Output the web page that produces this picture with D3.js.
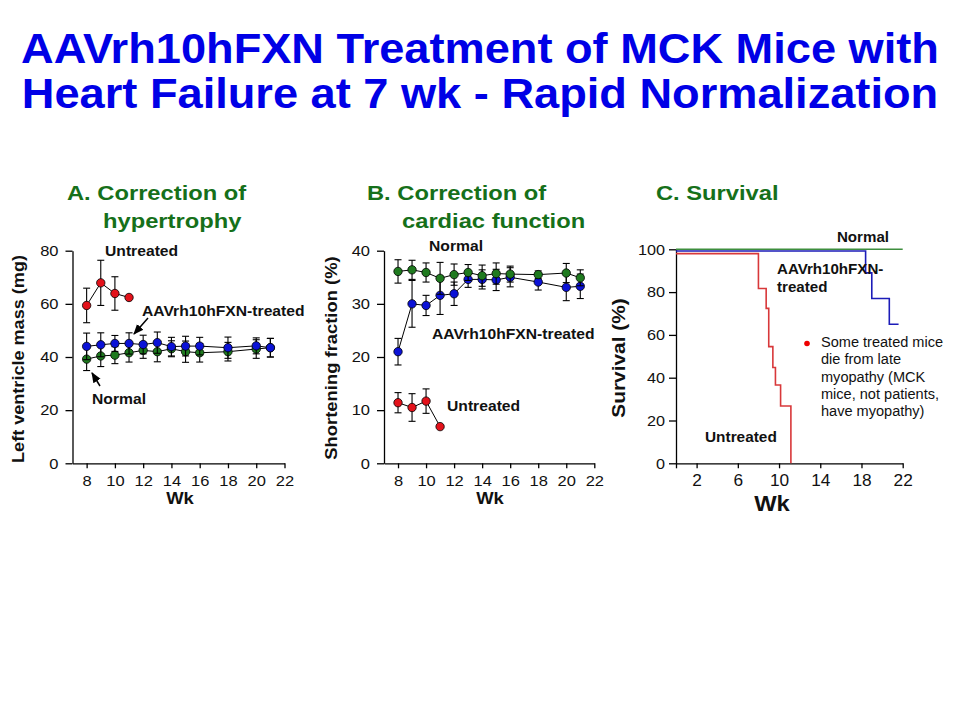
<!DOCTYPE html>
<html><head><meta charset="utf-8">
<script src="https://cdn.jsdelivr.net/npm/d3@7"></script>
<style>
body{margin:0;background:#fff;}
svg{display:block;font-family:"Liberation Sans",Arial,Helvetica,sans-serif;}
</style></head>
<body><svg id="chart" width="960" height="720"></svg>
<script>
// ---- Data ----
const weeks = [8,9,10,11,12,13,14,15,16,18,20,21];
const weeksUntreated = [8,9,10,11];
// Panel A: left ventricle mass (mg)
const lvmTreated    = [44.0,44.6,45.1,45.1,44.7,45.4,43.9,44.1,44.1,43.5,44.2,43.5];
const lvmTreatedErr = [5,4.5,3,4,3.5,4,3.5,3.7,3.3,4,3,3.5];
const lvmNormal     = [39.2,40.4,40.7,41.6,42.5,42.0,43.1,42.0,41.6,42.0,43.0,43.5];
const lvmNormalErr  = [4.3,4,3.2,3.5,3,3.8,3,4,3.5,3.5,3.5,3.5];
const lvmUntreated    = [59.4,67.9,63.9,62.4];
const lvmUntreatedErr = [6.5,8.5,6.3,0];
// Panel B: shortening fraction (%)
const sfNormal     = [36.1,36.4,35.9,34.8,35.5,35.9,35.3,35.7,35.6,35.5,35.8,34.9];
const sfNormalErr  = [2.2,1.8,1.8,3,2,1.5,2,2,1.5,0.7,1.8,1.5];
const sfTreated    = [21.0,30.0,29.7,31.6,31.9,34.6,34.6,34.5,35.0,34.1,33.1,33.3];
const sfTreatedErr = [2.5,4.4,1.9,3.6,2.2,1.5,1.8,2,1.8,1.5,2.5,2.3];
const sfUntreated    = [11.4,10.5,11.7,6.9];
const sfUntreatedErr = [1.9,2.6,2.3,0];
// Panel C: survival (%) step curves
const survNormalWk = [0,22];
const survNormal   = [100,100];
const survTreatedWk = [0,18.4,19.0,20.7,21.6];
const survTreated   = [99.2,89,77,65,65];
const survUntreatedWk = [0,8.0,8.75,9.0,9.4,9.65,10.15,11.15];
const survUntreated   = [98,81.7,72.4,54.5,44.8,36.6,26.8,0];
// Ticks
const ticksAx = [8,10,12,14,16,18,20,22];
const ticksAy = [0,20,40,60,80];
const ticksBy = [0,10,20,30,40];
const ticksCx = [0,2,6,10,14,18,22];
const ticksCy = [0,20,40,60,80,100];

const COL = {red:"#e3121b", blue:"#0b12d6", green:"#1f7a1f",
             sRed:"#d8383a", sBlue:"#1c1cb8", sGreen:"#3e8e3e",
             title:"#0000e6", sub:"#16701a"};

const svg = d3.select("#chart");
svg.append("rect").attr("width",960).attr("height",720).attr("fill","#fff");

// text helper: text stretched horizontally (along its own direction) by sx
function label(x,y,t,opts={}){
  const sx = opts.sx||1.12, rot = opts.rotate?-90:0;
  const e = svg.append("text").attr("x",0).attr("y",0).attr("font-size",opts.size||14)
    .attr("font-weight",opts.weight||"bold").attr("fill",opts.fill||"#111")
    .attr("text-anchor",opts.anchor||"start")
    .attr("dominant-baseline",opts.baseline||"middle")
    .attr("transform",`translate(${x},${y}) rotate(${rot}) scale(${sx},1)`).text(t);
  return e;
}

// Main title
label(480,63,"AAVrh10hFXN Treatment of MCK Mice with",{size:42,anchor:"middle",baseline:"alphabetic",sx:1.076,fill:COL.title});
label(480,108,"Heart Failure at 7 wk - Rapid Normalization",{size:42,anchor:"middle",baseline:"alphabetic",sx:1.076,fill:COL.title});

// Panel subtitles
[[67,200,"A. Correction of"],[103,228,"hypertrophy"],
 [367,200,"B.  Correction of"],[402,228,"cardiac function"],
 [656,200,"C. Survival"]].forEach(l=>
  label(l[0],l[1],l[2],{size:21,baseline:"alphabetic",sx:1.13,fill:COL.sub}));

function styleAxis(g,size,sx,left){
  g.selectAll("path,line").attr("stroke","#000").attr("stroke-width",1.3);
  g.selectAll("text").attr("font-size",size).attr("fill","#111")
   .attr("font-family","'Liberation Sans',Arial,sans-serif")
   .attr("transform",`scale(${sx},1)`)
   .each(function(){ if(left){ const t=d3.select(this); t.attr("x",+t.attr("x")/sx); } });
}

// Generic error-bar series
function series(g,x,y,wk,vals,errs,color){
  const pts = wk.map((w,i)=>({w,v:vals[i],e:errs[i]}));
  g.append("path").datum(pts).attr("fill","none").attr("stroke","#000").attr("stroke-width",1)
    .attr("d",d3.line().x(d=>x(d.w)).y(d=>y(d.v)));
  const eb = g.append("g").selectAll("g").data(pts.filter(d=>d.e>0)).join("g")
    .attr("stroke","#000").attr("stroke-width",1.1);
  eb.append("line").attr("x1",d=>x(d.w)).attr("x2",d=>x(d.w))
    .attr("y1",d=>y(d.v+d.e)).attr("y2",d=>y(d.v-d.e));
  eb.append("line").attr("x1",d=>x(d.w)-3.5).attr("x2",d=>x(d.w)+3.5)
    .attr("y1",d=>y(d.v+d.e)).attr("y2",d=>y(d.v+d.e));
  eb.append("line").attr("x1",d=>x(d.w)-3.5).attr("x2",d=>x(d.w)+3.5)
    .attr("y1",d=>y(d.v-d.e)).attr("y2",d=>y(d.v-d.e));
  g.append("g").selectAll("circle").data(pts).join("circle")
    .attr("cx",d=>x(d.w)).attr("cy",d=>y(d.v)).attr("r",4.2)
    .attr("fill",color).attr("stroke","#000").attr("stroke-width",0.8);
}

// arrow marker
svg.append("defs").append("marker").attr("id","arr").attr("viewBox","0 0 10 10")
  .attr("refX",9).attr("refY",5).attr("markerWidth",7).attr("markerHeight",7)
  .attr("orient","auto-start-reverse").append("path").attr("d","M0,1 L10,5 L0,9 Z").attr("fill","#000");

// ---------- Panel A ----------
const xA = d3.scaleLinear().domain([7,22]).range([72.5,284.5]);
const yA = d3.scaleLinear().domain([0,80]).range([463.3,250.7]);
const gA = svg.append("g");
styleAxis(gA.append("g").attr("transform","translate(0,463.3)")
  .call(d3.axisBottom(xA).tickValues(ticksAx).tickSize(5).tickSizeOuter(0).tickPadding(7)),15,1.1,false);
styleAxis(gA.append("g").attr("transform","translate(72.5,0)")
  .call(d3.axisLeft(yA).tickValues(ticksAy).tickSize(7).tickSizeOuter(0).tickPadding(7)),15,1.1,true);
series(gA,xA,yA,weeks,lvmNormal,lvmNormalErr,COL.green);
series(gA,xA,yA,weeks,lvmTreated,lvmTreatedErr,COL.blue);
series(gA,xA,yA,weeksUntreated,lvmUntreated,lvmUntreatedErr,COL.red);
label(105,252,"Untreated");
label(142,312,"AAVrh10hFXN-treated");
label(92,400,"Normal");
gA.append("line").attr("x1",148).attr("y1",318).attr("x2",134).attr("y2",334)
  .attr("stroke","#000").attr("stroke-width",1.5).attr("marker-end","url(#arr)");
gA.append("line").attr("x1",100).attr("y1",386).attr("x2",92).attr("y2",373)
  .attr("stroke","#000").attr("stroke-width",1.5).attr("marker-end","url(#arr)");
label(20,359,"Left ventricle mass (mg)",{rotate:true,anchor:"middle",size:16,sx:1.13});
label(180,500,"Wk",{anchor:"middle",size:16,sx:1.15});

// ---------- Panel B ----------
const xB = d3.scaleLinear().domain([7,22]).range([384,594.3]);
const yB = d3.scaleLinear().domain([0,40]).range([463.3,250.7]);
const gB = svg.append("g");
styleAxis(gB.append("g").attr("transform","translate(0,463.3)")
  .call(d3.axisBottom(xB).tickValues(ticksAx).tickSize(5).tickSizeOuter(0).tickPadding(7)),15,1.1,false);
styleAxis(gB.append("g").attr("transform","translate(384,0)")
  .call(d3.axisLeft(yB).tickValues(ticksBy).tickSize(7).tickSizeOuter(0).tickPadding(7)),15,1.1,true);
series(gB,xB,yB,weeks,sfTreated,sfTreatedErr,COL.blue);
series(gB,xB,yB,weeks,sfNormal,sfNormalErr,COL.green);
series(gB,xB,yB,weeksUntreated,sfUntreated,sfUntreatedErr,COL.red);
label(429,247,"Normal");
label(432,335,"AAVrh10hFXN-treated");
label(447,407,"Untreated");
label(333,358,"Shortening fraction (%)",{rotate:true,anchor:"middle",size:16,sx:1.15});
label(490,500,"Wk",{anchor:"middle",size:16,sx:1.15});

// ---------- Panel C ----------
const xC = d3.scaleLinear().domain([0,22]).range([676,902.7]);
const yC = d3.scaleLinear().domain([0,100]).range([463.3,249.3]);
const gC = svg.append("g");
styleAxis(gC.append("g").attr("transform","translate(0,463.3)")
  .call(d3.axisBottom(xC).tickValues(ticksCx).tickFormat(d=>d===0?"":d)
  .tickSize(5).tickSizeOuter(0).tickPadding(6)),16,1.08,false);
styleAxis(gC.append("g").attr("transform","translate(676,0)")
  .call(d3.axisLeft(yC).tickValues(ticksCy).tickSize(7).tickSizeOuter(0).tickPadding(4)),15,1.08,true);
const step = d3.line().curve(d3.curveStepAfter).x(d=>xC(d[0])).y(d=>yC(d[1]));
function surv(wk,vals,color){
  gC.append("path").datum(wk.map((w,i)=>[w,vals[i]])).attr("fill","none")
    .attr("stroke",color).attr("stroke-width",1.6).attr("d",step);
}
surv(survNormalWk,survNormal,COL.sGreen);
surv(survTreatedWk,survTreated,COL.sBlue);
surv(survUntreatedWk,survUntreated,COL.sRed);
label(889,238,"Normal",{anchor:"end",sx:1.08});
label(777,270,"AAVrh10hFXN-",{sx:1.08});
label(777,288,"treated",{sx:1.08});
label(705,438,"Untreated",{sx:1.1});
gC.append("circle").attr("cx",807).attr("cy",343.5).attr("r",2.8).attr("fill","#e00");
["Some treated mice","die from late","myopathy (MCK","mice, not patients,","have myopathy)"]
  .forEach((t,i)=>label(821,343.5+i*17.3,t,{weight:"normal",size:14,sx:1.04}));
label(620,358,"Survival (%)",{rotate:true,anchor:"middle",size:19,sx:1.1});
label(772,505,"Wk",{anchor:"middle",size:22,sx:1.08});
</script></body></html>
